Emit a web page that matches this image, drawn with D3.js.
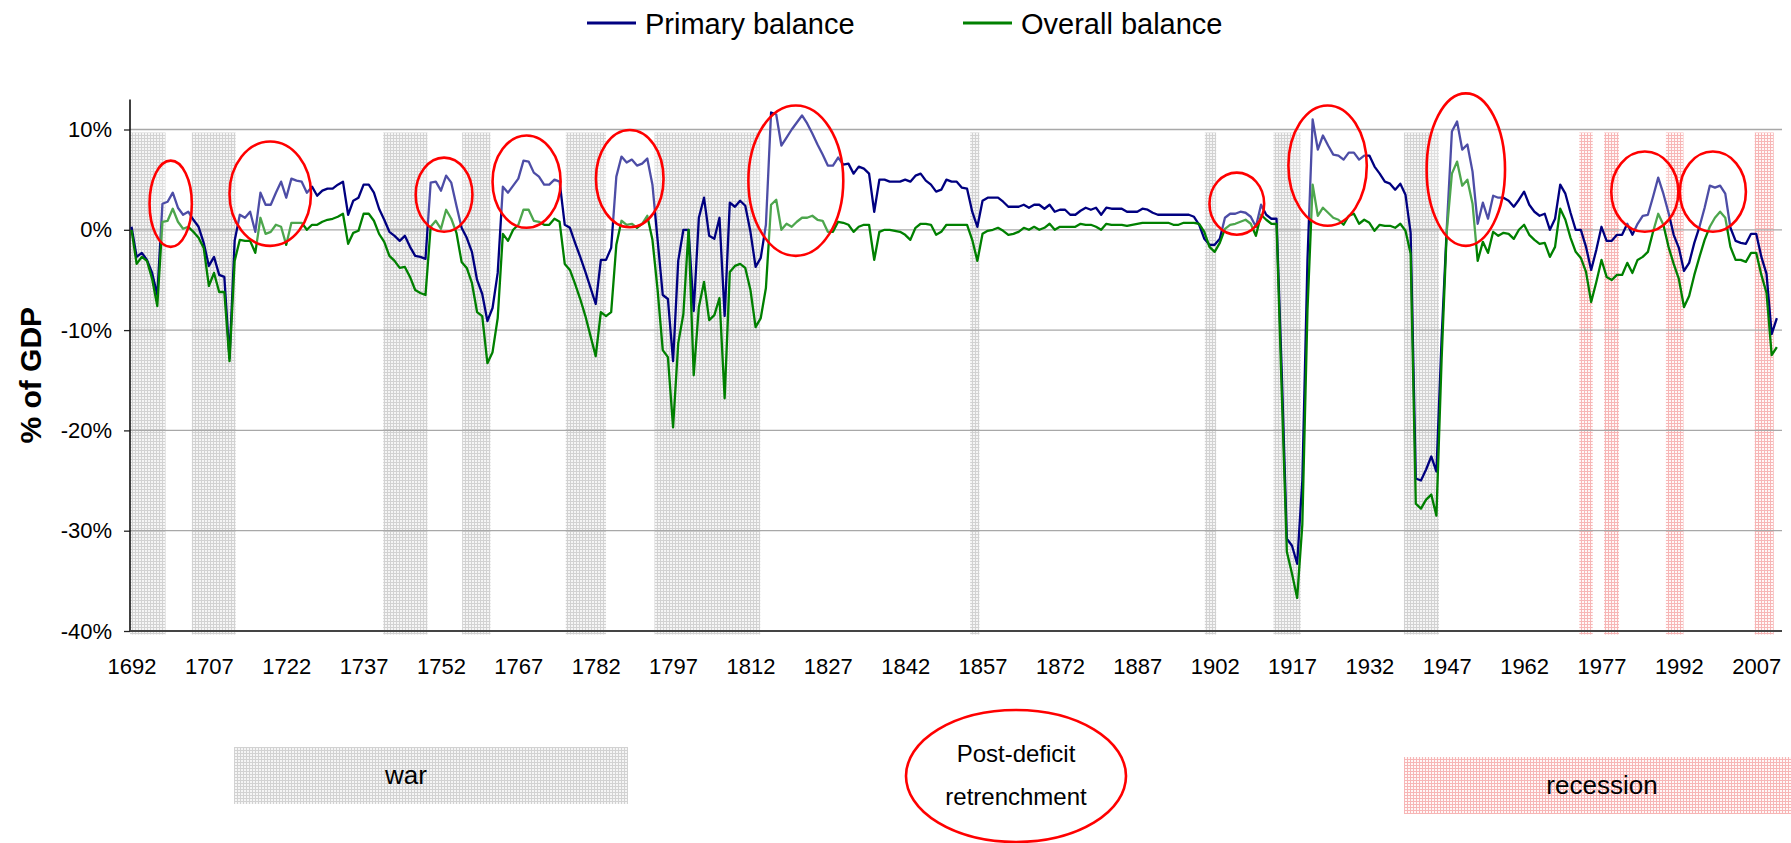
<!DOCTYPE html>
<html>
<head>
<meta charset="utf-8">
<script src="https://cdn.jsdelivr.net/npm/d3@7/dist/d3.min.js"></script>
<style>
  html, body { margin: 0; padding: 0; background: #ffffff; }
  svg { display: block; font-family: "Liberation Sans", Arial, sans-serif; }
</style>
</head>
<body>
<script>
// ---------------- DATA ----------------
const years = d3.range(1692, 2012); // 1692..2011

const primaryBalance = [
  0.3, -2.7, -2.3, -3.0, -4.3, -6.5, 2.6, 2.8, 3.7, 2.2,
  1.5, 1.8, 1.0, 0.3, -1.3, -3.6, -2.7, -4.5, -4.7, -12.8,
  -1.1, 1.5, 1.2, 1.8, -0.2, 3.7, 2.5, 2.5, 3.7, 4.8,
  3.2, 5.1, 4.9, 4.8, 3.7, 4.3, 3.4, 3.9, 4.1, 4.1,
  4.5, 4.8, 1.5, 2.9, 3.2, 4.5, 4.5, 3.7, 2.1, 1.0,
  -0.2, -0.6, -1.1, -0.6, -1.7, -2.6, -2.7, -2.9, 4.7, 4.8,
  3.9, 5.4, 4.7, 2.4, 0.2, -0.8, -2.2, -5.0, -6.4, -9.1,
  -7.8, -4.3, 4.3, 3.7, 4.4, 5.1, 6.9, 6.8, 5.7, 5.3,
  4.5, 4.5, 5.0, 4.8, 0.5, 0.2, -1.3, -2.7, -4.2, -5.8,
  -7.4, -3.0, -3.0, -1.8, 5.3, 7.3, 6.7, 7.0, 6.4, 6.6,
  7.1, 4.5, -1.0, -6.5, -6.9, -13.1, -3.1, 0.0, 0.0, -8.1,
  1.2, 3.2, -0.6, -0.9, 1.2, -8.6, 2.7, 2.3, 2.9, 2.4,
  -0.2, -3.7, -2.8, 0.5, 11.7, 11.5, 8.4, 9.2, 10.0, 10.7,
  11.4, 10.6, 9.6, 8.5, 7.5, 6.4, 6.4, 7.2, 6.5, 6.6,
  5.6, 6.3, 6.1, 5.6, 1.8, 5.0, 5.0, 4.8, 4.8, 4.8,
  5.0, 4.8, 5.4, 5.6, 4.9, 4.5, 3.8, 4.0, 5.0, 4.8,
  4.8, 4.2, 4.1, 1.8, 0.3, 2.9, 3.2, 3.2, 3.2, 2.8,
  2.3, 2.3, 2.3, 2.5, 2.2, 2.5, 2.5, 2.1, 2.5, 1.8,
  2.0, 2.0, 1.5, 1.5, 1.9, 2.2, 2.0, 2.2, 1.5, 2.2,
  2.1, 2.1, 2.1, 1.8, 1.8, 1.8, 2.1, 2.0, 1.7, 1.5,
  1.5, 1.5, 1.5, 1.5, 1.5, 1.5, 1.3, 0.5, -0.9, -1.5,
  -1.5, -0.9, 1.2, 1.6, 1.6, 1.8, 1.7, 1.3, 0.3, 2.5,
  1.5, 1.1, 1.1, -14.0, -30.8, -31.5, -33.3, -25.0, -3.0, 11.0,
  8.0, 9.4, 8.4, 7.5, 7.4, 7.0, 7.7, 7.7, 7.0, 7.4,
  7.4, 6.3, 5.6, 4.8, 4.6, 4.0, 4.6, 3.5, -0.3, -24.8,
  -25.0, -23.9, -22.6, -24.1, -10.9, 0.1, 9.8, 10.8, 8.0, 8.5,
  5.8, 0.6, 2.7, 1.1, 3.4, 3.2, 3.2, 2.9, 2.3, 3.0,
  3.8, 2.5, 1.8, 1.4, 1.6, 0.0, 1.1, 4.5, 3.6, 1.7,
  0.0, 0.0, -1.7, -4.0, -2.0, 0.3, -1.1, -1.1, -0.5, -0.5,
  0.6, -0.5, 0.6, 1.4, 1.5, 3.3, 5.2, 3.6, 1.7, -0.5,
  -1.8, -4.1, -3.3, -1.3, 0.3, 2.2, 4.4, 4.2, 4.4, 3.6,
  0.2, -1.1, -1.3, -1.4, -0.4, -0.4, -2.7, -4.4, -10.4, -8.8
];

const overallBalance = [
  0.0, -3.4, -2.7, -3.1, -4.9, -7.6, 0.8, 0.9, 2.1, 0.8,
  0.1, 0.3, -0.2, -0.8, -1.8, -5.6, -4.3, -6.2, -6.2, -13.1,
  -3.1, -1.0, -1.1, -1.1, -2.3, 1.2, -0.4, -0.2, 0.5, 0.3,
  -1.5, 0.7, 0.7, 0.7, 0.0, 0.5, 0.5, 0.8, 1.0, 1.1,
  1.3, 1.6, -1.4, -0.3, -0.1, 1.6, 1.6, 0.9, -0.4, -1.2,
  -2.6, -3.1, -3.8, -3.7, -4.7, -6.0, -6.3, -6.5, 0.3, 0.9,
  0.1, 2.0, 1.1, -0.3, -3.2, -3.8, -5.3, -8.2, -8.6, -13.3,
  -12.2, -8.8, -0.4, -1.1, 0.0, 0.5, 2.0, 2.0, 0.9, 0.8,
  0.5, 0.5, 1.1, 0.8, -3.4, -4.0, -5.4, -6.9, -8.6, -10.6,
  -12.6, -8.2, -8.6, -8.2, -1.5, 0.9, 0.5, 0.6, 0.2, 0.6,
  1.4, -1.0, -6.0, -12.0, -12.7, -19.7, -11.3, -8.4, 0.0, -14.5,
  -7.7, -5.2, -9.0, -8.5, -6.8, -16.8, -4.2, -3.6, -3.4, -3.8,
  -6.0, -9.7, -8.8, -5.8, 2.5, 3.0, 0.0, 0.6, 0.3, 0.8,
  1.2, 1.2, 1.4, 1.0, 0.9, -0.2, -0.2, 0.8, 0.7, 0.5,
  -0.2, 0.3, 0.5, 0.5, -3.0, -0.2, 0.0, 0.0, -0.1, -0.2,
  -0.5, -1.0, 0.2, 0.6, 0.6, 0.5, -0.5, -0.2, 0.5, 0.5,
  0.5, 0.5, 0.5, -1.0, -3.1, -0.4, -0.1, 0.0, 0.2, -0.1,
  -0.5, -0.4, -0.2, 0.2, 0.0, 0.3, 0.0, 0.2, 0.6, 0.0,
  0.3, 0.3, 0.3, 0.3, 0.6, 0.5, 0.5, 0.3, 0.0, 0.6,
  0.5, 0.5, 0.5, 0.4, 0.5, 0.6, 0.7, 0.7, 0.7, 0.7,
  0.7, 0.7, 0.5, 0.5, 0.7, 0.7, 0.7, 0.6, -0.2, -1.7,
  -2.2, -1.3, 0.1, 0.5, 0.6, 0.8, 1.0, 0.6, -0.6, 1.5,
  1.0, 0.6, 0.6, -16.0, -32.1, -34.3, -36.7, -29.4, -8.0, 4.5,
  1.4, 2.2, 1.7, 1.2, 1.0, 0.5, 1.4, 1.6, 0.6, 1.0,
  0.7, -0.1, 0.5, 0.4, 0.4, 0.2, 0.6, -0.1, -2.4, -27.3,
  -27.8, -26.9, -26.4, -28.5, -13.0, -0.2, 5.6, 6.8, 4.4, 5.0,
  2.6, -3.1, -1.2, -2.3, -0.2, -0.6, -0.3, -0.4, -0.9, 0.0,
  0.5, -0.5, -1.0, -1.4, -1.3, -2.7, -1.7, 2.1, 1.0, -0.8,
  -2.2, -2.8, -4.2, -7.2, -5.2, -3.0, -4.7, -5.0, -4.5, -4.5,
  -3.3, -4.3, -3.0, -2.7, -2.2, -0.2, 1.6, 0.5, -1.7, -3.4,
  -4.9, -7.7, -6.6, -4.5, -2.7, -1.0, 0.3, 1.2, 1.8, 1.2,
  -1.7, -3.0, -3.0, -3.2, -2.3, -2.3, -4.5, -6.3, -12.5, -11.7
];

const xTickYears = [1692, 1707, 1722, 1737, 1752, 1767, 1782, 1797, 1812, 1827, 1842,
                    1857, 1872, 1887, 1902, 1917, 1932, 1947, 1962, 1977, 1992, 2007];
const yTickValues = [10, 0, -10, -20, -30, -40];

// shaded periods (years)
const warStart = [1691.7, 1703.7, 1740.8, 1756.1, 1776.2, 1793.4, 1854.6, 1900.1, 1913.4, 1938.7];
const warEnd   = [1698.6, 1712.2, 1749.4, 1761.6, 1784.0, 1813.9, 1856.4, 1902.3, 1918.7, 1945.5];
const recessionStart = [1972.7, 1977.5, 1989.5, 2006.7];
const recessionEnd   = [1975.3, 1980.4, 1992.9, 2010.4];

// "post-deficit retrenchment" ellipses (centre year, centre %, half-width years, half-height %)
const retrenchYear   = [1699.6, 1718.9, 1752.6, 1768.6, 1788.6, 1820.8, 1906.3, 1923.9, 1950.7, 1985.4, 1998.6];
const retrenchValue  = [2.6, 3.6, 3.5, 4.8, 5.1, 4.9, 2.6, 6.4, 6.0, 3.8, 3.8];
const retrenchRYears = [4.1, 7.9, 5.5, 6.6, 6.55, 9.2, 5.3, 7.6, 7.6, 6.5, 6.4];
const retrenchRValue = [4.3, 5.2, 3.7, 4.6, 4.85, 7.5, 3.1, 6.0, 7.6, 4.0, 4.0];

const seriesNames = ["Primary balance", "Overall balance"];
const seriesColors = ["#000080", "#008000"];

// ---------------- CHART ----------------
const W = 1791, H = 843;
const svg = d3.select("body").append("svg").attr("width", W).attr("height", H);

const x = d3.scaleLinear().domain([1692, 2012]).range([131.5, 1782]);
const y = d3.scaleLinear().domain([-40, 10]).range([631, 129.5]);
const plotLeft = 130, plotRight = 1782;

const defs = svg.append("defs");
function makePattern(id, bg, fg) {
  const p = defs.append("pattern").attr("id", id).attr("patternUnits", "userSpaceOnUse")
    .attr("width", 3).attr("height", 3);
  p.append("rect").attr("width", 3).attr("height", 3).attr("fill", bg);
  p.append("rect").attr("width", 3).attr("height", 1).attr("fill", fg);
  p.append("rect").attr("width", 1).attr("height", 3).attr("fill", fg);
}
makePattern("warPat", "#f5f5f5", "#d2d2d2");
makePattern("recPat", "#fff7f7", "#f7b6b6");

// bands
const bandTop = y(9.7), bandBottom = y(-40.35);
svg.append("g").selectAll("rect").data(warStart.map((s, i) => [s, warEnd[i]])).join("rect")
  .attr("x", d => Math.max(plotLeft, x(d[0])))
  .attr("width", d => x(d[1]) - Math.max(plotLeft, x(d[0])))
  .attr("y", bandTop).attr("height", bandBottom - bandTop)
  .attr("fill", "url(#warPat)");
svg.append("g").selectAll("rect").data(recessionStart.map((s, i) => [s, recessionEnd[i]])).join("rect")
  .attr("x", d => x(d[0]))
  .attr("width", d => x(d[1]) - x(d[0]))
  .attr("y", bandTop).attr("height", bandBottom - bandTop)
  .attr("fill", "url(#recPat)");

// gridlines
svg.append("g").selectAll("line").data(yTickValues.filter(v => v > -40)).join("line")
  .attr("x1", plotLeft).attr("x2", plotRight)
  .attr("y1", d => y(d)).attr("y2", d => y(d))
  .attr("stroke", "#a8a8a8").attr("stroke-width", 1.3);

// y axis
const yAxis = d3.axisLeft(y).tickValues(yTickValues).tickSize(6).tickPadding(12)
  .tickFormat(d => d + "%");
const gy = svg.append("g").attr("transform", `translate(${plotLeft},0)`).call(yAxis);
gy.select(".domain").remove();
gy.selectAll(".tick line").attr("stroke", "#222").attr("stroke-width", 1.3);
gy.selectAll(".tick text").attr("font-size", 22).attr("fill", "#000")
  .attr("font-family", '"Liberation Sans", Arial, sans-serif');
svg.append("line").attr("x1", plotLeft).attr("x2", plotLeft)
  .attr("y1", y(13)).attr("y2", y(-40)).attr("stroke", "#111").attr("stroke-width", 1.6);

// x axis
const gx = svg.append("g").attr("transform", `translate(0,${y(-40)})`)
  .call(d3.axisBottom(x).tickValues(xTickYears).tickFormat(d3.format("d")).tickSize(0).tickPadding(27));
gx.select(".domain").remove();
gx.selectAll(".tick text").attr("font-size", 22).attr("fill", "#000")
  .attr("font-family", '"Liberation Sans", Arial, sans-serif');
svg.append("line").attr("x1", plotLeft).attr("x2", plotRight)
  .attr("y1", y(-40)).attr("y2", y(-40)).attr("stroke", "#444").attr("stroke-width", 2.2);

// y title
svg.append("text").attr("transform", `translate(41,${y(-14.5)}) rotate(-90)`)
  .attr("text-anchor", "middle").attr("font-size", 30).attr("font-weight", "bold")
  .text("% of GDP");

// lines
const line = d3.line().x((d, i) => x(years[i])).y(d => y(d)).curve(d3.curveLinear);
[primaryBalance, overallBalance].forEach((vals, k) => {
  svg.append("path").datum(vals).attr("d", line)
    .attr("fill", "none").attr("stroke", seriesColors[k]).attr("stroke-width", 2.3)
    .attr("stroke-linejoin", "round");
});

// annotation ellipses
svg.append("g").selectAll("ellipse").data(retrenchYear.map((yr, i) => i)).join("ellipse")
  .attr("cx", i => x(retrenchYear[i]))
  .attr("cy", i => y(retrenchValue[i]))
  .attr("rx", i => x(retrenchYear[i] + retrenchRYears[i]) - x(retrenchYear[i]))
  .attr("ry", i => y(0) - y(retrenchRValue[i]))
  .attr("fill", "rgba(255,255,255,0.3)").attr("stroke", "#ff0000").attr("stroke-width", 2.6);

// top legend
const legendX = [587, 963];
seriesNames.forEach((name, k) => {
  svg.append("line").attr("x1", legendX[k]).attr("x2", legendX[k] + 49)
    .attr("y1", 23).attr("y2", 23).attr("stroke", seriesColors[k]).attr("stroke-width", 3);
  svg.append("text").attr("x", legendX[k] + 58).attr("y", 33.5)
    .attr("font-size", 29).attr("fill", "#000").text(name);
});

// bottom legend
svg.append("rect").attr("x", 234).attr("y", 747).attr("width", 394).attr("height", 57)
  .attr("fill", "url(#warPat)");
svg.append("text").attr("x", 406).attr("y", 775).attr("dy", "0.35em")
  .attr("text-anchor", "middle").attr("font-size", 26).text("war");

svg.append("ellipse").attr("cx", 1016).attr("cy", 776).attr("rx", 110).attr("ry", 66)
  .attr("fill", "none").attr("stroke", "#ff0000").attr("stroke-width", 2.6);
svg.append("text").attr("x", 1016).attr("y", 753.5).attr("dy", "0.35em")
  .attr("text-anchor", "middle").attr("font-size", 24).text("Post-deficit");
svg.append("text").attr("x", 1016).attr("y", 797).attr("dy", "0.35em")
  .attr("text-anchor", "middle").attr("font-size", 24).text("retrenchment");

svg.append("rect").attr("x", 1404).attr("y", 757).attr("width", 387).attr("height", 57)
  .attr("fill", "url(#recPat)");
svg.append("text").attr("x", 1602).attr("y", 785).attr("dy", "0.35em")
  .attr("text-anchor", "middle").attr("font-size", 26).text("recession");
</script>
</body>
</html>
